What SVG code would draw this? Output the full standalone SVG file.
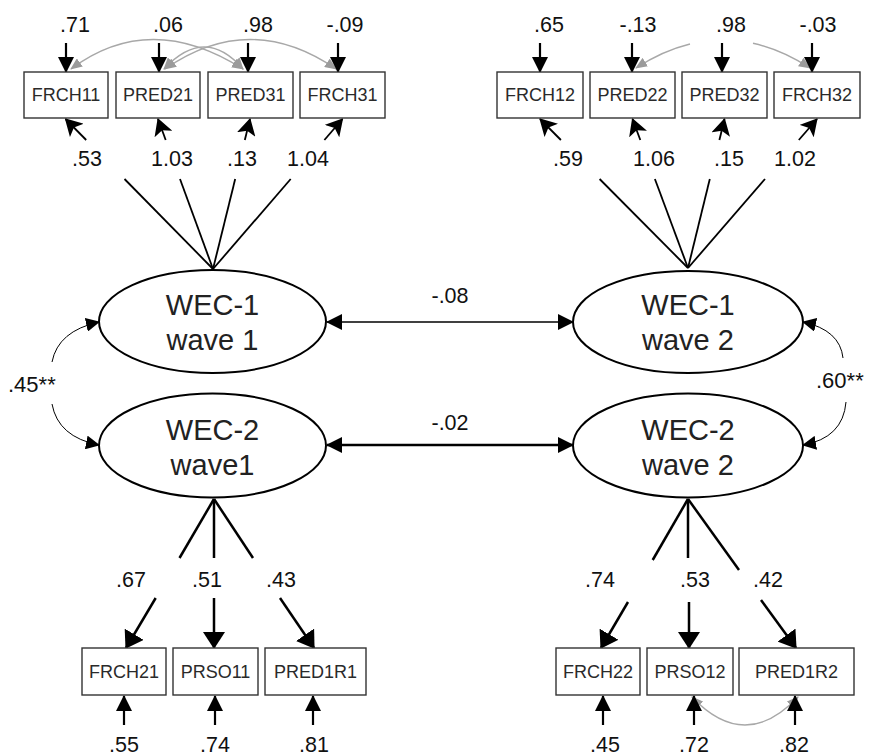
<svg xmlns="http://www.w3.org/2000/svg" width="872" height="756" viewBox="0 0 872 756">
<style>
  .box { fill: #fff; stroke: #333; stroke-width: 1.4; }
  .lat { fill: #fff; stroke: #000; stroke-width: 2; }
  .bt { font-family: "Liberation Sans", Arial, sans-serif; font-size: 18px; fill: #2a2a2a; text-anchor: middle; }
  .lt { font-family: "Liberation Sans", Arial, sans-serif; font-size: 29px; fill: #222; text-anchor: middle; }
  .num { font-family: "Liberation Sans", Arial, sans-serif; font-size: 21.5px; fill: #111; text-anchor: middle; }
  .cor { font-family: "Liberation Sans", Arial, sans-serif; font-size: 22px; fill: #111; }
  .ln { stroke: #000; stroke-width: 1.8; fill: none; }
  .lnb { stroke: #000; stroke-width: 2.5; fill: none; }
  .err { stroke: #000; stroke-width: 2.2; fill: none; marker-end: url(#ah); }
  .gray { stroke: #a8a8a8; stroke-width: 1.4; fill: none; }
  .thin { stroke: #000; stroke-width: 1; fill: none; }
</style>
<defs>
  <marker id="ah" viewBox="0 0 16 16" refX="15" refY="8" markerWidth="16" markerHeight="16" markerUnits="userSpaceOnUse" orient="auto-start-reverse">
    <path d="M0,0 L16,8 L0,16 z" fill="#000"/>
  </marker>
  <marker id="ahm" viewBox="0 0 17 19" refX="16" refY="9.5" markerWidth="17" markerHeight="19" markerUnits="userSpaceOnUse" orient="auto-start-reverse">
    <path d="M0,0 L17,9.5 L0,19 L4,9.5 z" fill="#000"/>
  </marker>
  <marker id="ahb" viewBox="0 0 17 22" refX="16" refY="11" markerWidth="17" markerHeight="22" markerUnits="userSpaceOnUse" orient="auto-start-reverse">
    <path d="M0,0 L17,11 L0,22 z" fill="#000"/>
  </marker>
  <marker id="ahs" viewBox="0 0 14 14" refX="13" refY="7" markerWidth="14" markerHeight="14" markerUnits="userSpaceOnUse" orient="auto-start-reverse">
    <path d="M0,0 L14,7 L0,14 z" fill="#000"/>
  </marker>
  <marker id="ahg" viewBox="0 0 12 10" refX="11" refY="5" markerWidth="12" markerHeight="10" markerUnits="userSpaceOnUse" orient="auto-start-reverse">
    <path d="M0,0 L12,5 L0,10 z" fill="#9b9b9b"/>
  </marker>
</defs>

<g id="connectors">
  <!-- gray correlations among errors -->
  <path class="gray" d="M71,69 Q150,10 243,69" marker-start="url(#ahg)" marker-end="url(#ahg)"/>
  <path class="gray" d="M164,69 Q205,25 243,69" marker-start="url(#ahg)" marker-end="url(#ahg)"/>
  <path class="gray" d="M165,69 Q250,10 336,69" marker-start="url(#ahg)" marker-end="url(#ahg)"/>
  <path class="gray" d="M636,68 Q663,50.6 690,44" marker-start="url(#ahg)"/>
  <path class="gray" d="M753,43.3 Q781.5,49.6 810,68" marker-end="url(#ahg)"/>
  <path class="gray" d="M692,697 Q745,753 798,697" marker-start="url(#ahg)" marker-end="url(#ahg)"/>

  <!-- error arrows top -->
  <line class="err" x1="66" y1="43" x2="66" y2="72"/>
  <line class="err" x1="159" y1="43" x2="159" y2="72"/>
  <line class="err" x1="248" y1="43" x2="248" y2="72"/>
  <line class="err" x1="338" y1="43" x2="338" y2="72"/>
  <line class="err" x1="540" y1="43" x2="540" y2="72"/>
  <line class="err" x1="632" y1="43" x2="632" y2="72"/>
  <line class="err" x1="722" y1="43" x2="722" y2="72"/>
  <line class="err" x1="812" y1="43" x2="812" y2="72"/>

  <!-- error arrows bottom -->
  <line class="err" x1="124" y1="725" x2="124" y2="696"/>
  <line class="err" x1="215" y1="725" x2="215" y2="696"/>
  <line class="err" x1="313" y1="725" x2="313" y2="696"/>
  <line class="err" x1="603" y1="725" x2="603" y2="696"/>
  <line class="err" x1="694" y1="725" x2="694" y2="696"/>
  <line class="err" x1="795" y1="725" x2="795" y2="696"/>

  <!-- top-left loadings -->
  <line class="ln" x1="213" y1="269" x2="124.5" y2="179"/>
  <line class="ln" x1="213" y1="269" x2="180" y2="179"/>
  <line class="ln" x1="213" y1="269" x2="235.2" y2="179"/>
  <line class="ln" x1="213" y1="269" x2="290.7" y2="179"/>
  <line class="ln" x1="86.2" y1="140" x2="65.5" y2="119" marker-end="url(#ahm)"/>
  <line class="ln" x1="165.7" y1="140" x2="158" y2="119" marker-end="url(#ahm)"/>
  <line class="ln" x1="244.8" y1="140" x2="250" y2="119" marker-end="url(#ahm)"/>
  <line class="ln" x1="324.4" y1="140" x2="342.5" y2="119" marker-end="url(#ahm)"/>

  <!-- top-right loadings -->
  <line class="ln" x1="688" y1="268" x2="599.6" y2="179"/>
  <line class="ln" x1="688" y1="268" x2="654.9" y2="179"/>
  <line class="ln" x1="688" y1="268" x2="709.8" y2="179"/>
  <line class="ln" x1="688" y1="268" x2="765" y2="179"/>
  <line class="ln" x1="560.9" y1="140" x2="540" y2="119" marker-end="url(#ahm)"/>
  <line class="ln" x1="640.3" y1="140" x2="632.5" y2="119" marker-end="url(#ahm)"/>
  <line class="ln" x1="719.4" y1="140" x2="724.5" y2="119" marker-end="url(#ahm)"/>
  <line class="ln" x1="798.8" y1="140" x2="817" y2="119" marker-end="url(#ahm)"/>

  <!-- bottom-left loadings -->
  <line class="lnb" x1="214" y1="499" x2="179.5" y2="558"/>
  <line class="lnb" x1="214" y1="499" x2="214" y2="558"/>
  <line class="lnb" x1="214" y1="499" x2="253" y2="558"/>
  <line class="lnb" x1="155.7" y1="598" x2="126" y2="648" marker-end="url(#ahb)"/>
  <line class="lnb" x1="214" y1="598" x2="214" y2="648" marker-end="url(#ahb)"/>
  <line class="lnb" x1="280" y1="598" x2="314" y2="648" marker-end="url(#ahb)"/>

  <!-- bottom-right loadings -->
  <line class="lnb" x1="688" y1="499" x2="652.7" y2="560"/>
  <line class="lnb" x1="688" y1="499" x2="688" y2="558"/>
  <line class="lnb" x1="688" y1="499" x2="739" y2="570"/>
  <line class="lnb" x1="628" y1="602" x2="601" y2="648" marker-end="url(#ahb)"/>
  <line class="lnb" x1="689" y1="602" x2="689" y2="648" marker-end="url(#ahb)"/>
  <line class="lnb" x1="761" y1="600" x2="796" y2="648" marker-end="url(#ahb)"/>

  <!-- latent covariances across waves -->
  <line stroke="#000" stroke-width="1.4" x1="327" y1="322" x2="573" y2="322" marker-start="url(#ah)" marker-end="url(#ah)"/>
  <line stroke="#000" stroke-width="2.6" x1="327" y1="445" x2="573" y2="445" marker-start="url(#ah)" marker-end="url(#ah)"/>

  <!-- within-wave correlations -->
  <path class="thin" d="M52,362 Q58,331 99,322" marker-end="url(#ahs)"/>
  <path class="thin" d="M52,404 Q58,437 99,445" marker-end="url(#ahs)"/>
  <path class="thin" d="M843,358 Q840,330 803,322" marker-end="url(#ahs)"/>
  <path class="thin" d="M846,402 Q843,438 803,445" marker-end="url(#ahs)"/>

  <!-- connector labels -->
  <text class="num" x="75" y="32">.71</text>
  <text class="num" x="168" y="32">.06</text>
  <text class="num" x="258" y="32">.98</text>
  <text class="num" x="345" y="32">-.09</text>
  <text class="num" x="549" y="32">.65</text>
  <text class="num" x="638" y="32">-.13</text>
  <text class="num" x="731" y="32">.98</text>
  <text class="num" x="818" y="32">-.03</text>

  <text class="num" x="87" y="166">.53</text>
  <text class="num" x="172" y="166">1.03</text>
  <text class="num" x="242" y="166">.13</text>
  <text class="num" x="308" y="166">1.04</text>
  <text class="num" x="568" y="166">.59</text>
  <text class="num" x="654" y="166">1.06</text>
  <text class="num" x="729" y="166">.15</text>
  <text class="num" x="795" y="166">1.02</text>

  <text class="num" x="450" y="303">-.08</text>
  <text class="num" x="450" y="430">-.02</text>
  <text class="cor" x="8" y="392">.45**</text>
  <text class="cor" x="816" y="388">.60**</text>

  <text class="num" x="131" y="587">.67</text>
  <text class="num" x="207" y="587">.51</text>
  <text class="num" x="281" y="587">.43</text>
  <text class="num" x="600" y="587">.74</text>
  <text class="num" x="695" y="587">.53</text>
  <text class="num" x="768" y="587">.42</text>

  <text class="num" x="124" y="752">.55</text>
  <text class="num" x="215" y="752">.74</text>
  <text class="num" x="314" y="752">.81</text>
  <text class="num" x="605" y="752">.45</text>
  <text class="num" x="694" y="752">.72</text>
  <text class="num" x="794" y="752">.82</text>
</g>

<g id="FRCH11"><rect class="box" x="24" y="72" width="84" height="46"/><text class="bt" x="66" y="101">FRCH11</text></g>
<g id="PRED21"><rect class="box" x="116" y="72" width="84" height="46"/><text class="bt" x="158" y="101">PRED21</text></g>
<g id="PRED31"><rect class="box" x="208" y="72" width="85" height="46"/><text class="bt" x="250.5" y="101">PRED31</text></g>
<g id="FRCH31"><rect class="box" x="300" y="72" width="85" height="46"/><text class="bt" x="342.5" y="101">FRCH31</text></g>

<g id="FRCH12"><rect class="box" x="497" y="72" width="86" height="46"/><text class="bt" x="540" y="101">FRCH12</text></g>
<g id="PRED22"><rect class="box" x="590" y="72" width="85" height="46"/><text class="bt" x="632.5" y="101">PRED22</text></g>
<g id="PRED32"><rect class="box" x="682" y="72" width="85" height="46"/><text class="bt" x="724.5" y="101">PRED32</text></g>
<g id="FRCH32"><rect class="box" x="774" y="72" width="86" height="46"/><text class="bt" x="817" y="101">FRCH32</text></g>

<g id="WEC1_wave1"><ellipse class="lat" cx="212.5" cy="321.5" rx="113.5" ry="51.5"/><text class="lt" x="212.5" y="315">WEC-1</text><text class="lt" x="212.5" y="350">wave 1</text></g>
<g id="WEC2_wave1"><ellipse class="lat" cx="212.5" cy="445.5" rx="113.5" ry="52"/><text class="lt" x="212.5" y="440">WEC-2</text><text class="lt" x="212.5" y="475">wave1</text></g>
<g id="WEC1_wave2"><ellipse class="lat" cx="688" cy="322" rx="115" ry="51"/><text class="lt" x="688" y="315">WEC-1</text><text class="lt" x="688" y="350">wave 2</text></g>
<g id="WEC2_wave2"><ellipse class="lat" cx="688" cy="445.5" rx="115" ry="52"/><text class="lt" x="688" y="440">WEC-2</text><text class="lt" x="688" y="475">wave 2</text></g>

<g id="FRCH21"><rect class="box" x="82" y="648" width="84" height="47"/><text class="bt" x="124" y="678">FRCH21</text></g>
<g id="PRSO11"><rect class="box" x="173" y="648" width="85" height="47"/><text class="bt" x="215.5" y="678">PRSO11</text></g>
<g id="PRED1R1"><rect class="box" x="265" y="648" width="101" height="47"/><text class="bt" x="315.5" y="678">PRED1R1</text></g>

<g id="FRCH22"><rect class="box" x="556" y="648" width="84" height="47"/><text class="bt" x="598" y="678">FRCH22</text></g>
<g id="PRSO12"><rect class="box" x="647" y="648" width="86" height="47"/><text class="bt" x="690" y="678">PRSO12</text></g>
<g id="PRED1R2"><rect class="box" x="739" y="648" width="115" height="47"/><text class="bt" x="796.5" y="678">PRED1R2</text></g>
</svg>
